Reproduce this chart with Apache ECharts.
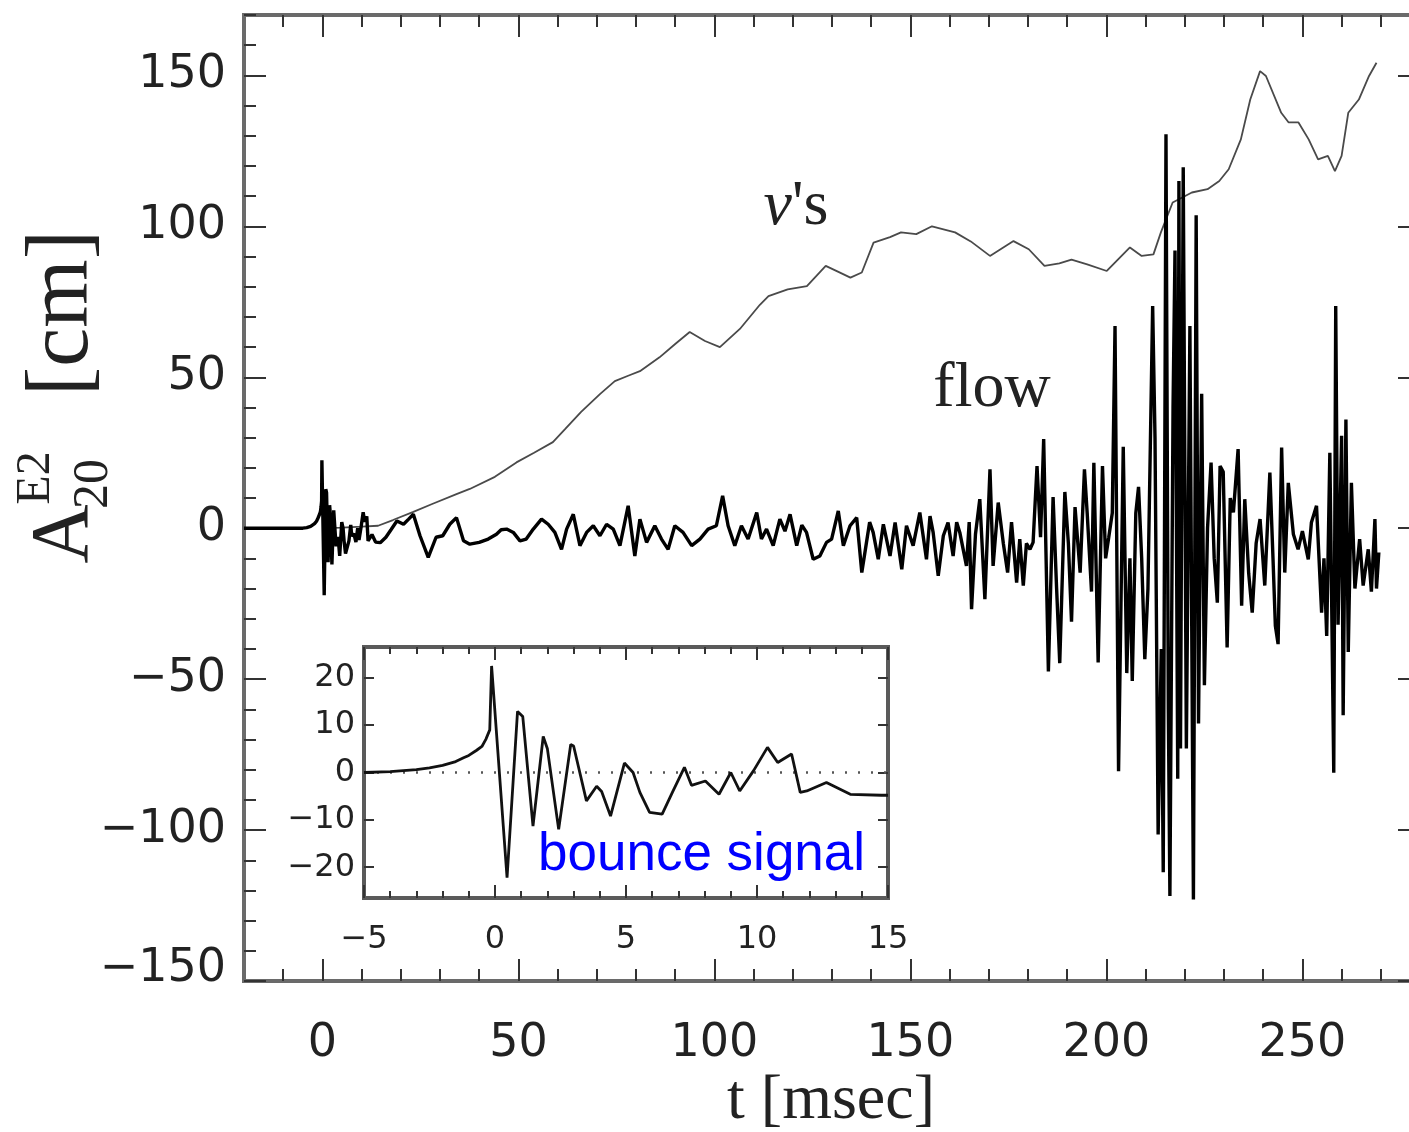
<!DOCTYPE html>
<html><head><meta charset="utf-8">
<script src="https://cdn.jsdelivr.net/npm/echarts@6/dist/echarts.min.js"></script>
<style>html,body{margin:0;padding:0;background:#fff}#c{width:1409px;height:1132px}</style>
</head><body><div id="c"></div>
<script>
// ---- data ----
const xTickLabels = [0, 50, 100, 150, 200, 250];
const yTickLabels = [-150, -100, -50, 0, 50, 100, 150];
const insetXLabels = [-5, 0, 5, 10, 15];
const insetYLabels = [-20, -10, 0, 10, 20];

// neutrino-driven contribution [t ms, A cm]
const nuSignal = [[0,0],[5,0.2],[10,0.5],[14.2,0.8],[18,2.7],[23.2,5.4],[28,8],[34.2,11.3],[37.6,13],[44,17],[49.5,21.8],[54,25],[58.8,28.5],[61.9,32.8],[66,38.5],[70.8,44.4],[74.6,48.7],[78,50.5],[81,52],[86,56.6],[90,61],[93.7,65],[97.6,62],[101.4,60],[106.5,66],[111.6,74],[113.8,76.9],[118.7,79.1],[123.6,80.2],[128.4,86.9],[131.5,85],[134.7,83],[137.6,84.7],[140.6,94.6],[144.8,96.4],[147.6,98],[151.5,97.4],[155.5,100],[161.4,98],[165.4,95],[170.3,90.2],[176.3,95.1],[180.2,92.4],[184.2,86.9],[188,87.7],[191.1,89],[195.1,87.4],[200.1,85.2],[206,93],[209,90.2],[212,90.7],[213.9,98],[216.9,107.9],[221.8,111.2],[225.8,112.3],[228.8,115],[231.2,118.9],[234.3,128.8],[236.7,142],[239.2,151.4],[240.7,149.8],[244.6,137.6],[246.5,134.4],[249,134.4],[251.6,128.8],[254,122.2],[256.5,123.3],[258.3,118.3],[260,123.3],[261.7,137.6],[264.4,142],[267,149.8],[268.9,154.2]];

// flow contribution, split in time segments [t ms, A cm]
const flowBounce = [[-20,0],[-5,0],[-4,0.2],[-3,0.6],[-2.5,1],[-2,1.5],[-1.5,2.3],[-1.2,3.1],[-1,3.6],[-0.7,4.7],[-0.5,5.5],[-0.35,7],[-0.2,9],[-0.13,22.5],[0.46,-22.2],[0.86,12.9],[1.06,11.8],[1.45,-11.3],[1.84,7.6],[2.0,5],[2.43,-12],[2.89,5.9],[3.0,5.6],[3.49,-6],[3.88,-2.9],[4.07,-4],[4.41,-9.2],[4.94,2],[5.27,0],[5.53,-4.2],[5.9,-8.4],[6.38,-8.8],[6.77,-4.2],[7.23,1.1],[7.5,-2.7],[8.03,-1.8],[8.55,-4.6],[9.0,0],[9.34,-3.9],[9.87,0.4],[10.4,5.3],[10.79,2.1],[11.32,3.9],[11.65,-4.2],[11.9,-3.9],[12.65,-2.1],[13.56,-4.6],[14.75,-4.8],[15,-4.8]];
const flowEarly = [[16.2,-3],[17.5,-0.5],[19,2.4],[20.7,1.3],[22,3],[23.2,4.6],[24.9,-2.5],[27,-9.7],[29,-3],[30.7,-2.5],[32.5,1.3],[34.2,3.5],[36,-4.2],[37.6,-5.3],[40,-4.7],[42.3,-3.6],[44.4,-2],[45.6,-0.5],[47,-0.3],[48.7,-1.4],[50.4,-4.2],[52,-3.6],[53.8,-0.3],[55.9,3],[57.6,1.3],[59.3,-1.4],[61,-7],[62.3,-0.3],[64,4.6]];
const flowMid = [[65.7,-5.8],[67.4,-1.4],[69.1,0.8],[70.8,-2.5],[72.5,1.3],[74.2,-0.3],[75.9,-5.8],[78.0,7.4],[79.7,-9.2],[81.0,3],[82.7,-4.7],[84.8,0.8],[86.5,-3.6],[88.2,-7],[89.9,0.8],[92.0,-1.4],[94.2,-5.8],[96.3,-3.6],[98.4,-0.3],[100.5,0.8],[102.1,10.7],[103.5,0.8],[105.2,-5.8],[106.9,0.8],[108.6,-3.6],[110.8,5.2],[112.0,-3.6],[113.3,-0.3],[115.0,-5.8],[116.7,3],[118.0,-1],[119.3,4.6],[121.0,-5.8],[122.3,1],[123.5,-1.4],[125.2,-10.3],[126.9,-9.2],[128.6,-4.7],[129.9,-3.6],[131.6,5.7],[132.9,-5.8],[134.6,0.8],[136.3,3.5],[137.6,-14.7],[138.8,-4.7],[139.6,2],[140.5,-1.4],[141.8,-10.3],[143.1,1.3],[144.8,-9.2],[146.1,1.9],[147.8,-13.6],[149.0,0.8],[150.7,-5.8],[152.4,5.2],[154.1,-10.3],[155.0,4],[155.8,-1.4],[157.1,-15.8],[158.4,-2.5],[159.6,1.9],[160.9,-9.2],[161.8,2],[162.6,-1.4],[164.3,-12.5],[165.0,2],[165.6,-26.8],[166.6,-2],[167.7,9.6],[169.0,-23.5],[170.3,19.5],[171.1,-12.5],[172.4,8.5],[173.7,-5],[174.8,-14.7],[175.8,2],[177.1,-18],[177.9,-3.6],[178.8,-19],[179.6,-5],[180.5,-7],[181.3,-4.7],[182.3,20.6]];
const flowLate = [[183.2,-3],[184.0,29.5],[185.2,-47.5],[186.4,10.3],[187.3,-20],[188.1,-44.7],[189.4,12],[190.3,-5],[191.1,-31],[192.0,7],[193.3,-14.7],[194.4,19.5],[195.1,5],[196.2,-21],[196.8,21.7],[197.9,-44.5],[199.0,20.6],[199.8,-10],[200.6,-3],[201.5,5],[202.2,67],[203.1,-80.5],[204.3,27],[205.2,-48],[206.0,-10],[206.6,-50.6],[207.5,5],[208.2,13.7],[209.0,-10],[209.8,-43.4],[210.6,-20],[211.8,73.6],[212.4,30],[213.2,-101.5],[214.0,-40],[214.5,-114],[215.2,130.5],[215.8,-60],[216.2,-121.8],[217.0,40],[217.5,92],[218.2,-83],[218.5,115],[218.9,-73],[219.6,119.6],[220.4,-73],[221.3,67],[222.2,-123],[222.9,103.7],[223.5,-64.7],[224.3,44.5],[225.0,-52],[225.8,0],[226.7,21.7],[227.5,-10],[228.3,-24.7],[229.0,20.6],[229.8,18.7],[230.8,-39.5],[231.6,10],[232.4,5.2],[233.6,26.2],[234.5,-25.7],[235.3,9.6],[236.3,-15],[237.2,-28],[238.2,-5],[239.2,3],[240.4,-19],[241.7,18.4],[242.5,-10],[243.1,-32.3],[243.8,-38.4],[244.7,26.7],[245.5,-14.7],[246.4,15],[247.7,-2],[248.9,-7],[250.0,-1],[251.5,-10.3],[252.3,1.9],[253.6,7.4],[254.9,-28],[255.5,-10],[256.2,-35.7],[257.0,25],[258.0,-81],[258.5,73.6],[259.1,-32],[260.0,30.6],[260.4,-62],[261.1,36],[261.7,-41],[262.5,15],[263.4,-20],[264.6,-3.6],[265.5,-19],[266.8,-7],[267.6,-21],[268.5,3],[268.9,-20],[269.5,-8]];

// ---- build ----
const flowAll = flowBounce.concat(flowEarly, flowMid, flowLate);
const insetData = flowBounce.filter(p => p[0] >= -5);

function steps(a, b, s, skip) { const r = []; for (let v = a; v <= b + 1e-9; v += s) { if (!skip || Math.abs(v % skip) > 1e-9) r.push(+v.toFixed(4)); } return r; }
const xMinor = steps(-10, 270, 10, 50);
const yMinor = steps(-140, 170, 10, 50);
const inXMinor = steps(-4, 14, 1, 5);
const minus = v => String(v).replace('-', '\u2212');
const TICK = '#333';
const LBL = { fontFamily: 'DejaVu Sans', color: '#222' };

function axis(o) {
  return Object.assign({
    type: 'value', axisLine: { show: false, onZero: false }, splitLine: { show: false },
    axisTick: { show: true, inside: true, length: o.len, customValues: o.ticks, lineStyle: { color: TICK, width: 2 } },
    axisLabel: o.labels ? Object.assign({ show: true, customValues: o.labels, formatter: o.fmt || minus, margin: o.margin, fontSize: o.fs, rich: o.rich }, LBL) : { show: false }
  }, o.base);
}
// the lowest y label sits a bit above its tick in the original
const yFmt = v => v === -150 ? '{lo|' + minus(v) + '}' : minus(v);
const yRich = { lo: { fontSize: 46, fontFamily: 'DejaVu Sans', color: '#222', padding: [0, 0, 24, 0] } };

const option = {
  animation: false,
  backgroundColor: '#fff',
  grid: [
    { left: 244, top: 15, width: 1176, height: 966, outerBoundsMode: 'none', containLabel: false, show: true, borderWidth: 4, borderColor: '#6a6a6a', backgroundColor: 'transparent' },
    { left: 364, top: 647, width: 524, height: 251, outerBoundsMode: 'none', containLabel: false, show: true, borderWidth: 4, borderColor: '#5a5a5a', backgroundColor: '#fff' }
  ],
  xAxis: [
    axis({ base: { gridIndex: 0, position: 'bottom', min: -20, max: 280 }, len: 22, ticks: xTickLabels, labels: xTickLabels, margin: 40, fs: 46 }),
    axis({ base: { gridIndex: 0, position: 'bottom', min: -20, max: 280 }, len: 12, ticks: xMinor }),
    axis({ base: { gridIndex: 0, position: 'top', min: -20, max: 280 }, len: 22, ticks: xTickLabels }),
    axis({ base: { gridIndex: 0, position: 'top', min: -20, max: 280 }, len: 12, ticks: xMinor }),
    axis({ base: { gridIndex: 1, position: 'bottom', min: -5, max: 15 }, len: 13, ticks: insetXLabels, labels: insetXLabels, margin: 26, fs: 32 }),
    axis({ base: { gridIndex: 1, position: 'bottom', min: -5, max: 15 }, len: 7, ticks: inXMinor }),
    axis({ base: { gridIndex: 1, position: 'top', min: -5, max: 15 }, len: 13, ticks: insetXLabels }),
    axis({ base: { gridIndex: 1, position: 'top', min: -5, max: 15 }, len: 7, ticks: inXMinor })
  ],
  yAxis: [
    axis({ base: { gridIndex: 0, position: 'left', min: -150, max: 170 }, len: 22, ticks: yTickLabels, labels: yTickLabels, margin: 18, fs: 46, fmt: yFmt, rich: yRich }),
    axis({ base: { gridIndex: 0, position: 'left', min: -150, max: 170 }, len: 12, ticks: yMinor }),
    axis({ base: { gridIndex: 0, position: 'right', min: -150, max: 170 }, len: 22, ticks: yTickLabels }),
    axis({ base: { gridIndex: 1, position: 'left', min: -26.5, max: 26.5 }, len: 10, ticks: insetYLabels, labels: insetYLabels, margin: 9, fs: 32 }),
    axis({ base: { gridIndex: 1, position: 'right', min: -26.5, max: 26.5 }, len: 10, ticks: insetYLabels })
  ],
  series: [
    { name: "ν's", type: 'line', xAxisIndex: 0, yAxisIndex: 0, data: nuSignal, showSymbol: false, symbol: 'none',
      lineStyle: { color: '#4a4a4a', width: 1.8 }, z: 3 },
    { name: 'flow', type: 'line', xAxisIndex: 0, yAxisIndex: 0, data: flowAll, showSymbol: false, symbol: 'none',
      lineStyle: { color: '#000', width: 3.4 }, z: 4 },
    { name: 'bounce', type: 'line', xAxisIndex: 4, yAxisIndex: 3, data: insetData, showSymbol: false, symbol: 'none',
      lineStyle: { color: '#111', width: 2.8 }, z: 6,
      markLine: { silent: true, symbol: ['none', 'none'], label: { show: false },
        lineStyle: { type: [2, 11], color: '#555', width: 2.5 }, data: [{ yAxis: 0 }] } }
  ],
  graphic: [
    { type: 'text', x: 796, y: 207, z: 10, style: { text: "{i|ν}'s", fontSize: 64, fontFamily: 'Liberation Serif', fill: '#222', align: 'center', verticalAlign: 'middle',
      rich: { i: { fontStyle: 'italic', fontSize: 64, fontFamily: 'Liberation Serif', fill: '#222' } } } },
    { type: 'text', x: 992, y: 389, z: 10, style: { text: 'flow', fontSize: 64, fontFamily: 'Liberation Serif', fill: '#222', align: 'center', verticalAlign: 'middle' } },
    { type: 'text', x: 538, y: 855, z: 20, style: { text: 'bounce signal', fontSize: 53, fontFamily: 'Liberation Sans', fill: '#0000ff', align: 'left', verticalAlign: 'middle' } },
    { type: 'text', x: 831, y: 1101, z: 10, style: { text: 't [msec]', fontSize: 64, fontFamily: 'Liberation Serif', fill: '#222', align: 'center', verticalAlign: 'middle' } },
    { type: 'text', x: 64, y: 313, rotation: Math.PI / 2, z: 10, style: { text: '[cm]', fontSize: 88, fontFamily: 'Liberation Serif', fill: '#222', align: 'center', verticalAlign: 'middle' } },
    { type: 'text', x: 65, y: 534, rotation: Math.PI / 2, z: 10, style: { text: 'A', fontSize: 82, fontFamily: 'Liberation Serif', fill: '#222', align: 'center', verticalAlign: 'middle' } },
    { type: 'text', x: 94, y: 484, rotation: Math.PI / 2, z: 10, style: { text: '20', fontSize: 50, fontFamily: 'Liberation Serif', fill: '#222', align: 'center', verticalAlign: 'middle' } },
    { type: 'text', x: 36, y: 478, rotation: Math.PI / 2, z: 10, style: { text: 'E2', fontSize: 48, fontFamily: 'Liberation Serif', fill: '#222', align: 'center', verticalAlign: 'middle' } }
  ]
};
const chart = echarts.init(document.getElementById('c'), null, { renderer: 'canvas' });
chart.setOption(option);
</script></body></html>
